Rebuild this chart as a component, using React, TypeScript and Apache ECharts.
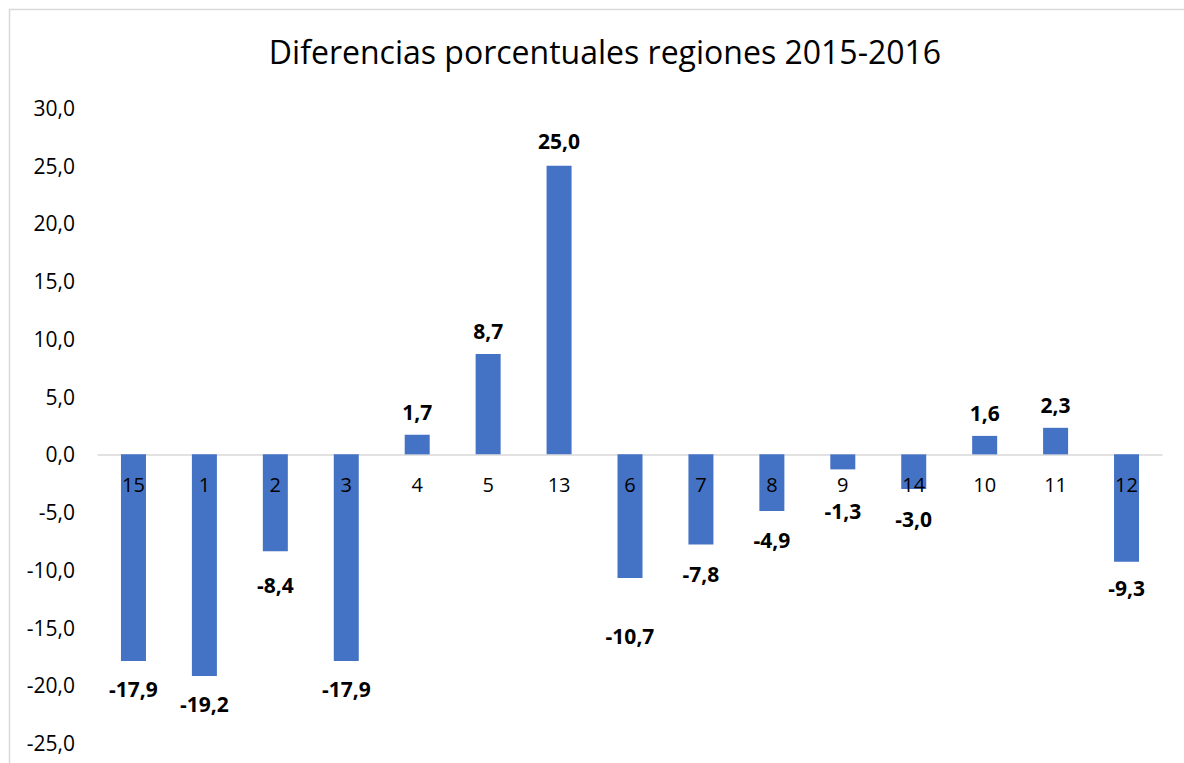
import React, { useEffect, useRef } from "react";
import * as echarts from "echarts";

const categories = ["15", "1", "2", "3", "4", "5", "13", "6", "7", "8", "9", "14", "10", "11", "12"];
const values = [-17.9, -19.2, -8.4, -17.9, 1.7, 8.7, 25.0, -10.7, -7.8, -4.9, -1.3, -3.0, 1.6, 2.3, -9.3];
const labelDistance = [17, 17, 23, 17, 12, 12, 14, 48, 19, 19, 31, 19, 12, 12, 16];
const titleText = "Diferencias porcentuales regiones 2015-2016";

const fmt = (v: number) => v.toFixed(1).replace(".", ",");

export default function App() {
  const ref = useRef<HTMLDivElement>(null);
  useEffect(() => {
    if (!ref.current) return;
    const chart = echarts.init(ref.current, null, { renderer: "svg" });
    const font = "'Open Sans', sans-serif";
    chart.setOption({
      animation: false,
      backgroundColor: "#ffffff",
      title: {
        text: titleText,
        left: 600,
        textAlign: "center",
        top: 30,
        textStyle: { fontFamily: font, fontSize: 32, fontWeight: "normal", color: "#000000" },
      },
      graphic: [
        {
          type: "rect",
          shape: { x: 9.5, y: 9.5, width: 1250, height: 800 },
          style: { fill: "none", stroke: "#d9d9d9", lineWidth: 1.5 },
          silent: true,
        },
      ],
      grid: { left: 98, right: 22, top: 108, bottom: 20, containLabel: false, outerBoundsMode: "none" },
      xAxis: {
        type: "category",
        data: categories,
        axisLine: { onZero: true, lineStyle: { color: "#d9d9d9", width: 1.5 } },
        axisTick: { show: false },
        axisLabel: { show: false },
      },
      yAxis: {
        type: "value",
        min: -25,
        max: 30,
        interval: 5,
        splitLine: { show: false },
        axisLine: { show: false },
        axisTick: { show: false },
        axisLabel: {
          fontFamily: font,
          fontSize: 21,
          color: "#000000",
          margin: 23,
          formatter: (v: number) => fmt(v),
        },
      },
      series: [
        {
          type: "bar",
          barWidth: 25,
          z: 2,
          itemStyle: { color: "#4472c4" },
          data: values.map((v, i) => ({
            value: v,
            label: {
              show: true,
              position: v >= 0 ? "top" : "bottom",
              distance: labelDistance[i],
              formatter: () => fmt(v),
              fontFamily: font,
              fontSize: 21,
              fontWeight: "bold",
              color: "#000000",
            },
          })),
        },
        {
          type: "bar",
          barWidth: 25,
          barGap: "-100%",
          z: 5,
          silent: true,
          itemStyle: { color: "rgba(0,0,0,0)" },
          data: categories.map(() => 0),
          label: {
            show: true,
            position: "bottom",
            distance: 20,
            formatter: (p: any) => categories[p.dataIndex],
            fontFamily: font,
            fontSize: 20,
            color: "#000000",
          },
        },
      ],
    });
    return () => chart.dispose();
  }, []);
  return (
    <div
      ref={ref}
      style={{ position: "fixed", left: 0, top: 0, width: 1184, height: 763 }}
    />
  );
}
